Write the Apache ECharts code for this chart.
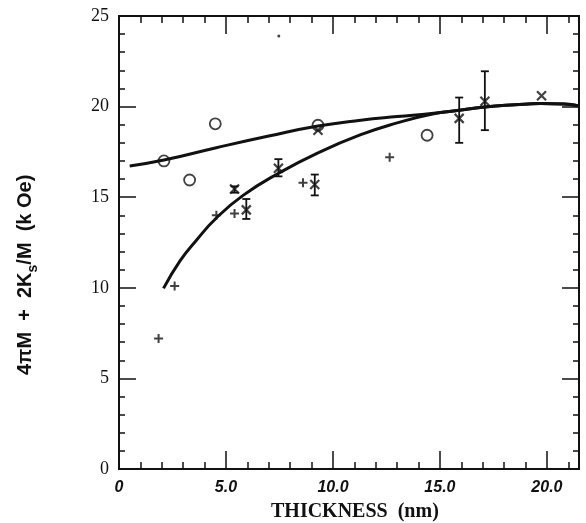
<!DOCTYPE html>
<html><head><meta charset="utf-8">
<script src="https://cdn.jsdelivr.net/npm/echarts@6/dist/echarts.min.js"></script>
<style>html,body{margin:0;padding:0;background:#fff}#c{width:586px;height:523px}</style>
</head><body><div id="c"></div>
<script>
// Data
var circles = [[2.1, 17.0], [3.3, 15.95], [4.5, 19.05], [9.3, 18.97], [14.4, 18.42]];
var crosses = [[5.95, 14.3], [7.45, 16.6], [9.15, 15.7], [9.3, 18.7], [15.9, 19.35], [17.1, 20.3], [19.75, 20.6], [5.4, 15.45]];
var errorBars = [[5.4, 15.25, 15.6], [5.95, 13.8, 14.9], [7.45, 16.15, 17.1], [9.15, 15.1, 16.25], [15.9, 18.0, 20.5], [17.1, 18.7, 21.95]];
var pluses = [[1.85, 7.2], [2.6, 10.1], [4.55, 14.0], [5.4, 14.1], [8.6, 15.8], [12.65, 17.2]];
var dots = [[7.47, 23.9]];
var upperCurve = [[0.5, 16.72], [2.1, 17.05], [4.5, 17.72], [7.0, 18.38], [9.3, 18.93], [11.3, 19.25], [13.0, 19.45], [14.6, 19.62], [15.9, 19.8], [17.1, 19.98], [18.5, 20.1], [19.7, 20.17], [20.8, 20.15], [21.45, 20.05]];
var lowerCurve = [[2.08, 9.97], [2.86, 11.5], [3.6, 12.6], [4.55, 13.85], [5.8, 15.1], [7.5, 16.35], [9.3, 17.45], [11.3, 18.45], [13.0, 19.1], [14.6, 19.58], [15.9, 19.8], [17.1, 19.98], [18.5, 20.1], [19.7, 20.17], [20.8, 20.15], [21.45, 20.05]];
var xTicks = [0, 5, 10, 15, 20];
var yTicks = [0, 5, 10, 15, 20, 25];

var chart = echarts.init(document.getElementById('c'));
var black = '#111';
function xAx(pos, interval, len, labels) {
  return {
    type: 'value', position: pos, min: 0, max: 21.5, interval: interval,
    axisLine: {show: true, onZero: false, lineStyle: {color: black, width: 2}},
    axisTick: {show: true, inside: true, length: len, lineStyle: {color: black, width: 1.5}},
    axisLabel: {show: labels, margin: 11, color: black, fontFamily: 'Liberation Sans', fontWeight: 'bold', fontStyle: 'italic', fontSize: 16,
      showMaxLabel: false,
      formatter: function (v) { return v === 0 ? '0' : v.toFixed(1); }},
    splitLine: {show: false}
  };
}
function yAx(pos, interval, len, labels) {
  return {
    type: 'value', position: pos, min: 0, max: 25, interval: interval,
    axisLine: {show: true, onZero: false, lineStyle: {color: black, width: 2}},
    axisTick: {show: true, inside: true, length: len, lineStyle: {color: black, width: 1.5}},
    axisLabel: {show: labels, margin: 10, color: black, fontFamily: 'Liberation Serif', fontSize: 18},
    splitLine: {show: false}
  };
}
var xSym = 'path://M0,0L10,10M10,0L0,10';
var pSym = 'path://M5,0L5,10M0,5L10,5';
var option = {
  animation: false,
  backgroundColor: '#fff',
  grid: {left: 119, top: 16, right: 7, bottom: 54, containLabel: false},
  xAxis: [xAx('bottom', 5, 18, true), xAx('bottom', 1, 7, false), xAx('top', 5, 18, false), xAx('top', 1, 7, false)],
  yAxis: [yAx('left', 5, 17, true), yAx('left', 1, 6, false), yAx('right', 5, 17, false), yAx('right', 1, 6, false)],
  graphic: [
    {type: 'text', left: 271, top: 502, style: {text: 'THICKNESS  (nm)', font: 'bold 20px "Liberation Serif"', fill: black}},
    {type: 'text', x: 11, y: 375, rotation: Math.PI / 2,
      style: {text: '{a|4\u03c0M  +  2K}{s|s}{a|/M  (k Oe)}', fill: black,
        rich: {a: {fontFamily: 'Liberation Sans', fontWeight: 'bold', fontSize: 20, verticalAlign: 'bottom', lineHeight: 24},
               s: {fontFamily: 'Liberation Sans', fontWeight: 'bold', fontSize: 14, verticalAlign: 'bottom', padding: [0, 0, -5, 0], lineHeight: 24}}}}
  ],
  series: [
    {type: 'line', data: upperCurve, smooth: true, showSymbol: false, symbol: 'none', lineStyle: {color: black, width: 3}},
    {type: 'line', data: lowerCurve, smooth: true, showSymbol: false, symbol: 'none', lineStyle: {color: black, width: 3}},
    {type: 'custom', data: errorBars, renderItem: function (params, api) {
      var x = api.value(0);
      var lo = api.coord([x, api.value(1)]);
      var hi = api.coord([x, api.value(2)]);
      var w = 4;
      var st = {stroke: black, lineWidth: 1.8};
      return {type: 'group', children: [
        {type: 'line', shape: {x1: lo[0], y1: lo[1], x2: hi[0], y2: hi[1]}, style: st},
        {type: 'line', shape: {x1: lo[0] - w, y1: lo[1], x2: lo[0] + w, y2: lo[1]}, style: st},
        {type: 'line', shape: {x1: hi[0] - w, y1: hi[1], x2: hi[0] + w, y2: hi[1]}, style: st}
      ]};
    }},
    {type: 'scatter', data: circles, symbol: 'circle', symbolSize: 11, itemStyle: {color: '#fff', borderColor: black, borderWidth: 1.8}},
    {type: 'scatter', data: crosses, symbol: xSym, symbolSize: 9, itemStyle: {color: 'none', borderColor: black, borderWidth: 2.2}},
    {type: 'scatter', data: pluses, symbol: pSym, symbolSize: 9, itemStyle: {color: 'none', borderColor: black, borderWidth: 2}},
    {type: 'scatter', data: dots, symbol: 'circle', symbolSize: 3, itemStyle: {color: black}}
  ]
};
chart.setOption(option);
</script></body></html>
